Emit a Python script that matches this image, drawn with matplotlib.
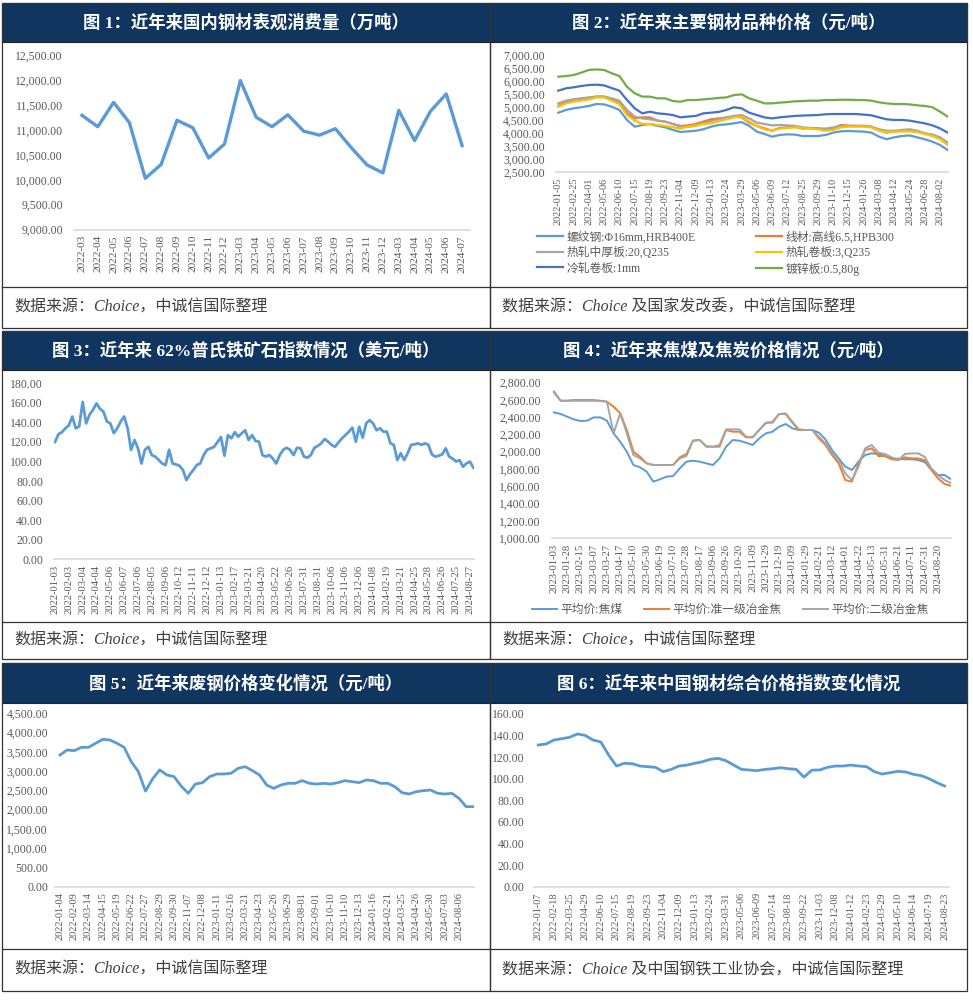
import numpy as np
import matplotlib
matplotlib.use('Agg')
import matplotlib.pyplot as plt
from matplotlib.patches import Rectangle

# ---------------- data ----------------
# fig 1: apparent steel consumption (10k t), monthly
months1 = ['2022-03', '2022-04', '2022-05', '2022-06', '2022-07', '2022-08', '2022-09',
           '2022-10', '2022-11', '2022-12', '2023-03', '2023-04', '2023-05', '2023-06',
           '2023-07', '2023-08', '2023-09', '2023-10', '2023-11', '2023-12', '2024-03',
           '2024-04', '2024-05', '2024-06', '2024-07']
consumption = [11300, 11070, 11560, 11150, 10030, 10310, 11200, 11050, 10440, 10720,
               12000, 11260, 11070, 11310, 10980, 10900, 11030, 10650, 10300, 10140,
               11400, 10790, 11380, 11730, 10690]

# fig 2: steel product prices (yuan/t), two samples per tick label
ticks2 = ['2022-01-05', '2022-02-25', '2022-04-01', '2022-05-06', '2022-06-10', '2022-07-15',
          '2022-08-19', '2022-09-23', '2022-11-04', '2022-12-09', '2023-01-13', '2023-02-24',
          '2023-03-29', '2023-05-06', '2023-06-09', '2023-07-12', '2023-08-25', '2023-09-29',
          '2023-11-10', '2023-12-15', '2024-01-26', '2024-03-08', '2024-04-12', '2024-05-24',
          '2024-06-28', '2024-08-02']
rebar = [4800, 4905, 4970, 5010, 5060, 5135, 5120, 5030, 4905, 4520, 4260, 4325, 4365, 4290,
         4235, 4135, 4055, 4080, 4105, 4160, 4260, 4325, 4350, 4390, 4440, 4290, 4070, 3980,
         3875, 3940, 3965, 3955, 3900, 3900, 3900, 3940, 4030, 4080, 4095, 4080, 4070, 4030,
         3875, 3775, 3850, 3900, 3925, 3850, 3775, 3680, 3555, 3360]
wire = [5060, 5225, 5290, 5340, 5370, 5420, 5420, 5315, 5190, 4775, 4580, 4620, 4620, 4495,
        4455, 4365, 4290, 4310, 4365, 4455, 4545, 4580, 4610, 4650, 4620, 4415, 4290, 4195,
        4105, 4210, 4235, 4260, 4185, 4210, 4195, 4160, 4195, 4325, 4300, 4290, 4290, 4260,
        4135, 4030, 4080, 4095, 4105, 4080, 4000, 3940, 3810, 3595]
plate = [5160, 5265, 5315, 5355, 5390, 5420, 5420, 5355, 5265, 4905, 4650, 4580, 4545, 4495,
         4455, 4365, 4260, 4260, 4290, 4390, 4470, 4545, 4620, 4675, 4710, 4580, 4415, 4365,
         4310, 4325, 4310, 4290, 4235, 4210, 4195, 4185, 4235, 4290, 4290, 4290, 4290, 4260,
         4160, 4105, 4105, 4135, 4160, 4105, 4000, 3955, 3850, 3645]
hot_coil = [5030, 5160, 5225, 5265, 5315, 5390, 5390, 5265, 5135, 4710, 4495, 4365, 4365, 4325,
            4290, 4235, 4195, 4260, 4310, 4365, 4390, 4470, 4545, 4620, 4650, 4455, 4290, 4160,
            4105, 4185, 4210, 4235, 4210, 4185, 4160, 4105, 4135, 4235, 4260, 4260, 4260, 4235,
            4105, 4055, 4070, 4080, 4080, 4055, 3980, 3900, 3775, 3555]
cold_coil = [5650, 5740, 5780, 5830, 5870, 5880, 5855, 5750, 5650, 5290, 4970, 4775, 4840, 4775,
             4750, 4710, 4620, 4650, 4675, 4775, 4800, 4830, 4905, 5010, 4970, 4800, 4710, 4620,
             4580, 4620, 4650, 4675, 4690, 4700, 4710, 4740, 4750, 4750, 4750, 4750, 4725, 4700,
             4620, 4545, 4520, 4520, 4495, 4440, 4390, 4310, 4195, 4030]
galvanized = [6190, 6215, 6255, 6345, 6450, 6470, 6450, 6320, 6215, 5800, 5550, 5420, 5420, 5355,
              5355, 5250, 5225, 5290, 5290, 5315, 5340, 5370, 5390, 5480, 5510, 5355, 5265, 5160,
              5160, 5190, 5210, 5240, 5250, 5265, 5265, 5290, 5290, 5300, 5300, 5290, 5290, 5265,
              5200, 5160, 5135, 5135, 5120, 5085, 5060, 5010, 4840, 4650]
names2 = ['螺纹钢:Φ16mm,HRB400E', '线材:高线6.5,HPB300', '热轧中厚板:20,Q235',
          '热轧卷板:3,Q235', '冷轧卷板:1mm', '镀锌板:0.5,80g']

# fig 3: Platts 62% iron ore index (USD/t), four samples per tick label
ticks3 = ['2022-01-03', '2022-02-03', '2022-03-04', '2022-04-04', '2022-05-06', '2022-06-07',
          '2022-07-06', '2022-08-05', '2022-09-06', '2022-10-12', '2022-11-11', '2022-12-12',
          '2023-01-13', '2023-02-17', '2023-03-21', '2023-04-20', '2023-05-22', '2023-06-26',
          '2023-07-31', '2023-08-31', '2023-10-06', '2023-11-06', '2023-12-06', '2024-01-08',
          '2024-02-19', '2024-03-21', '2024-04-25', '2024-05-28', '2024-06-26', '2024-07-25',
          '2024-08-27']
iron_ore = [120, 128, 130, 134, 137, 146, 134, 136, 161, 139,
            148, 153, 159.5, 154, 151, 141, 139, 129, 134, 141,
            146, 134, 112, 122, 113.5, 98, 112, 115, 106.6, 105,
            101.5, 98, 96.4, 112, 98, 97, 95.7, 91.3, 81, 87,
            91.3, 96.4, 98, 106.6, 112, 113.5, 115, 120, 125, 106,
            127, 123.7, 130, 125.4, 128.8, 132, 122, 127, 121, 120.3,
            106.6, 105, 106.6, 103, 98, 106.6, 112, 114, 112, 106.6,
            114, 113.5, 105, 104, 106.6, 114, 116, 118.6, 123, 120.3,
            117, 115, 119.6, 123.7, 127, 130.5, 134.6, 120.3, 135.6, 124.4,
            139, 142.4, 139, 132, 134, 130.5, 130.5, 118.6, 117, 101.5,
            108.4, 101.5, 108.4, 117, 117.6, 118.6, 117, 118.6, 117, 107.3,
            105, 106, 107.3, 113.5, 105, 103, 100, 101.5, 94.7, 98,
            100, 93.7]

# fig 4: coking coal / coke prices (yuan/t), two samples per tick label
ticks4 = ['2023-01-03', '2023-01-28', '2023-02-15', '2023-03-07', '2023-03-27', '2023-04-17',
          '2023-05-10', '2023-05-30', '2023-06-19', '2023-07-10', '2023-07-28', '2023-08-17',
          '2023-09-06', '2023-09-26', '2023-10-20', '2023-11-09', '2023-11-29', '2023-12-19',
          '2024-01-09', '2024-01-29', '2024-02-21', '2024-03-12', '2024-04-01', '2024-04-22',
          '2024-05-13', '2024-05-31', '2024-06-21', '2024-07-11', '2024-07-31', '2024-08-20']
coking_coal = [2456, 2437, 2406, 2375, 2356, 2360, 2398, 2398, 2360, 2213,
               2116, 2000, 1846, 1819, 1769, 1653, 1680, 1711, 1718, 1807,
               1885, 1896, 1885, 1865, 1846, 1923, 2058, 2136, 2128, 2105,
               2078, 2155, 2213, 2232, 2290, 2321, 2271, 2252, 2252, 2252,
               2221, 2143, 2020, 1923, 1827, 1788, 1885, 1962, 1981, 1973,
               1950, 1923, 1919, 1912, 1912, 1904, 1880, 1796, 1730, 1730, 1680]
coke_1st = [2696, 2591, 2591, 2599, 2599, 2599, 2599, 2591, 2580, 2522,
            2445, 2252, 2000, 1942, 1865, 1846, 1846, 1846, 1846, 1935,
            1973, 2128, 2136, 2058, 2058, 2058, 2252, 2232, 2232, 2167,
            2167, 2252, 2337, 2337, 2437, 2437, 2337, 2252, 2252, 2252,
            2155, 2078, 1962, 1865, 1672, 1653, 1865, 2020, 2039, 1950,
            1950, 1912, 1904, 1935, 1923, 1923, 1900, 1788, 1691, 1626, 1603]
coke_2nd = [2684, 2591, 2591, 2591, 2591, 2591, 2591, 2588, 2580, 2213,
            2445, 2213, 1962, 1923, 1865, 1846, 1846, 1846, 1846, 1923,
            1950, 2128, 2136, 2066, 2058, 2078, 2259, 2259, 2259, 2174,
            2167, 2252, 2329, 2348, 2437, 2445, 2348, 2259, 2252, 2252,
            2174, 2097, 1989, 1904, 1749, 1672, 1827, 2039, 2078, 1989,
            1973, 1935, 1904, 1973, 1981, 1981, 1940, 1807, 1730, 1672, 1634]
names4 = ['平均价:焦煤', '平均价:准一级冶金焦', '平均价:二级冶金焦']

# fig 5: scrap steel price (yuan/t), two samples per tick label
ticks5 = ['2022-01-04', '2022-02-09', '2022-03-14', '2022-04-15', '2022-05-19', '2022-06-22',
          '2022-07-27', '2022-08-29', '2022-09-30', '2022-11-07', '2022-12-08', '2023-01-11',
          '2023-02-16', '2023-03-21', '2023-04-23', '2023-05-26', '2023-06-29', '2023-08-01',
          '2023-09-01', '2023-10-10', '2023-11-10', '2023-12-13', '2024-01-16', '2024-02-21',
          '2024-03-25', '2024-04-26', '2024-05-30', '2024-07-03', '2024-08-06']
scrap = [3418, 3548, 3531, 3617, 3617, 3721, 3825, 3808, 3721, 3617,
         3245, 2985, 2480, 2800, 3030, 2900, 2856, 2613, 2423, 2665,
         2700, 2856, 2925, 2925, 2942, 3072, 3115, 3011, 2899, 2639,
         2553, 2639, 2683, 2683, 2752, 2683, 2665, 2683, 2665, 2700,
         2752, 2726, 2700, 2769, 2752, 2683, 2683, 2596, 2440, 2406,
         2466, 2492, 2510, 2423, 2406, 2423, 2293, 2077, 2077]

# fig 6: China steel composite price index, two samples per tick label
ticks6 = ['2022-01-07', '2022-02-18', '2022-03-25', '2022-04-29', '2022-06-10', '2022-07-15',
          '2022-08-19', '2022-09-23', '2022-11-04', '2022-12-09', '2023-01-13', '2023-02-24',
          '2023-03-31', '2023-05-06', '2023-06-09', '2023-07-14', '2023-08-18', '2023-09-22',
          '2023-11-03', '2023-12-08', '2024-01-12', '2024-02-23', '2024-03-29', '2024-05-10',
          '2024-06-14', '2024-07-19', '2024-08-23']
steel_index = [131.3, 132.2, 135.9, 137.1, 138.4, 141.5, 140.2, 135.9, 134.1, 122.0,
               111.8, 114.3, 114.0, 111.8, 111.2, 110.6, 106.6, 108.7, 111.8, 112.7,
               114.3, 115.8, 118.0, 118.9, 116.8, 112.7, 108.7, 108.1, 107.5, 108.7,
               109.3, 110.3, 109.3, 108.7, 101.5, 108.0, 108.1, 110.6, 111.8, 111.8,
               112.7, 111.8, 111.2, 106.6, 104.4, 105.6, 106.9, 106.3, 104.1, 102.9,
               100.1, 96.4, 93.3]

titles = ['图 1：近年来国内钢材表观消费量（万吨）',
          '图 2：近年来主要钢材品种价格（元/吨）',
          '图 3：近年来 62%普氏铁矿石指数情况（美元/吨）',
          '图 4：近年来焦煤及焦炭价格情况（元/吨）',
          '图 5：近年来废钢价格变化情况（元/吨）',
          '图 6：近年来中国钢材综合价格指数变化情况']
sources = ['数据来源：Choice，中诚信国际整理',
           '数据来源：Choice 及国家发改委，中诚信国际整理',
           '数据来源：Choice，中诚信国际整理',
           '数据来源：Choice，中诚信国际整理',
           '数据来源：Choice，中诚信国际整理',
           '数据来源：Choice 及中国钢铁工业协会，中诚信国际整理']

# ---------------- layout ----------------
plt.rcParams['font.family'] = ['Liberation Serif', 'Noto Sans CJK SC']
W, H = 973, 1002
fig = plt.figure(figsize=(W / 100, H / 100), dpi=100)
fig.patch.set_facecolor('white')

NAVY = '#10355f'
GREY_TXT = '#595959'
BLUE, ORANGE, GREY, YELLOW, DBLUE, GREEN = '#5b9bd5', '#ed7d31', '#a5a5a5', '#ffc000', '#4472c4', '#70ad47'

bg = fig.add_axes([0, 0, 1, 1])
bg.set_xlim(0, W)
bg.set_ylim(H, 0)
bg.axis('off')

cols = [(2, 490), (490, 967)]
rows = [(3, 42, 287, 328), (331, 370, 622, 659), (663, 703, 949, 991)]
for r, (top, hb, sep, bot) in enumerate(rows):
    for c, (x0, x1) in enumerate(cols):
        n = r * 2 + c
        bg.add_patch(Rectangle((x0, top), x1 - x0, hb - top, facecolor=NAVY,
                               edgecolor='#222222', lw=0.8))
        bg.add_patch(Rectangle((x0, top), x1 - x0, bot - top, facecolor='none',
                               edgecolor='#333333', lw=0.9))
        bg.plot([x0, x1], [sep, sep], color='#333333', lw=0.9)
        bg.text((x0 + x1) / 2, (top + hb) / 2 + 1, titles[n], color='white', fontsize=12.5,
                fontweight='bold', ha='center', va='center')
        bg.text(x0 + 12, (sep + bot) / 2, sources[n], color='#404040', fontsize=11.5,
                fontstyle='italic', ha='left', va='center')


def make_ax(x0, y0, x1, y1):
    ax = fig.add_axes([x0 / W, 1 - y1 / H, (x1 - x0) / W, (y1 - y0) / H])
    for s in ['top', 'right', 'left']:
        ax.spines[s].set_visible(False)
    ax.spines['bottom'].set_color('#d9d9d9')
    ax.spines['bottom'].set_linewidth(1.2)
    ax.set_facecolor('none')
    ax.tick_params(length=0, colors=GREY_TXT)
    return ax


def y_axis(ax, lo, hi, step, pad):
    ax.set_ylim(lo, hi)
    ax.set_yticks(np.arange(lo, hi + step / 2, step))
    ax.set_yticklabels([f'{v:,.2f}' for v in np.arange(lo, hi + step / 2, step)], fontsize=8.5)
    ax.tick_params(axis='y', pad=pad)


def x_dates(ax, labels, per_tick, x0px, x1px, first_px, step_px, size=7.5):
    ax.set_xticks(np.arange(len(labels)) * per_tick)
    ax.set_xticklabels(labels, rotation=90, fontsize=size)
    ax.tick_params(axis='x', pad=4)
    ax.set_xlim((x0px - first_px) / step_px * per_tick, (x1px - first_px) / step_px * per_tick)


# fig 1
ax1 = make_ax(74, 55.7, 470, 229.5)
ax1.plot(range(len(consumption)), consumption, color=BLUE, lw=2.4)
ax1.set_xlim(-0.5, len(months1) - 0.5)
ax1.set_xticks(range(len(months1)))
ax1.set_xticklabels(months1, rotation=90, fontsize=8.2)
ax1.tick_params(axis='x', pad=4)
y_axis(ax1, 9000, 12500, 500, 8)

# fig 2
ax2 = make_ax(556, 55.7, 948, 172.3)
series2 = [rebar, wire, plate, hot_coil, cold_coil, galvanized]
colors2 = [BLUE, ORANGE, GREY, YELLOW, DBLUE, GREEN]
h2 = []
for vals, col, name in zip(series2, colors2, names2):
    h2 += ax2.plot(range(len(vals)), vals, color=col, lw=1.6, label=name)
x_dates(ax2, ticks2, 2, 556, 948, 558.3, 15.27, size=7.3)
y_axis(ax2, 2500, 7000, 500, 8)
order = [0, 2, 4, 1, 3, 5]
fig.legend([h2[i] for i in order], [names2[i] for i in order], ncol=2, loc='upper left',
           bbox_to_anchor=(537 / W, 1 - 231 / H), frameon=False, fontsize=8.5,
           labelcolor=GREY_TXT, handlelength=2.2, handletextpad=0.3, columnspacing=5.1,
           labelspacing=0.27, borderpad=0, borderaxespad=0)

# fig 3
ax3 = make_ax(54, 383.3, 474, 559.3)
ax3.plot(range(len(iron_ore)), iron_ore, color=BLUE, lw=2.0)
x_dates(ax3, ticks3, 4, 54, 474, 55, 13.83, size=7.6)
y_axis(ax3, 0, 180, 20, 8)

# fig 4
ax4 = make_ax(552, 382.7, 951, 538)
h4 = []
for vals, col, name in zip([coking_coal, coke_1st, coke_2nd], [BLUE, ORANGE, GREY], names4):
    h4 += ax4.plot(range(len(vals)), vals, color=col, lw=1.4, label=name)
x_dates(ax4, ticks4, 2, 552, 951, 554, 13.24, size=7.7)
y_axis(ax4, 1000, 2800, 200, 8)
fig.legend(h4, names4, ncol=3, loc='upper left', bbox_to_anchor=(532 / W, 1 - 604 / H),
           frameon=False, fontsize=8.5, labelcolor=GREY_TXT, handlelength=2.1,
           handletextpad=0.3, columnspacing=1.85, borderpad=0, borderaxespad=0)

# fig 5
ax5 = make_ax(55, 713.3, 474, 886.7)
ax5.plot(range(len(scrap)), scrap, color=BLUE, lw=2.0)
x_dates(ax5, ticks5, 2, 55, 474, 60, 14.25, size=7.4)
y_axis(ax5, 0, 4500, 500, 5)

# fig 6
ax6 = make_ax(534, 714, 949, 886.7)
ax6.plot(range(len(steel_index)), steel_index, color=BLUE, lw=2.0)
x_dates(ax6, ticks6, 2, 534, 949, 538.3, 15.63, size=7.3)
y_axis(ax6, 0, 160, 20, 7)

fig.savefig('out.png', dpi=100)
